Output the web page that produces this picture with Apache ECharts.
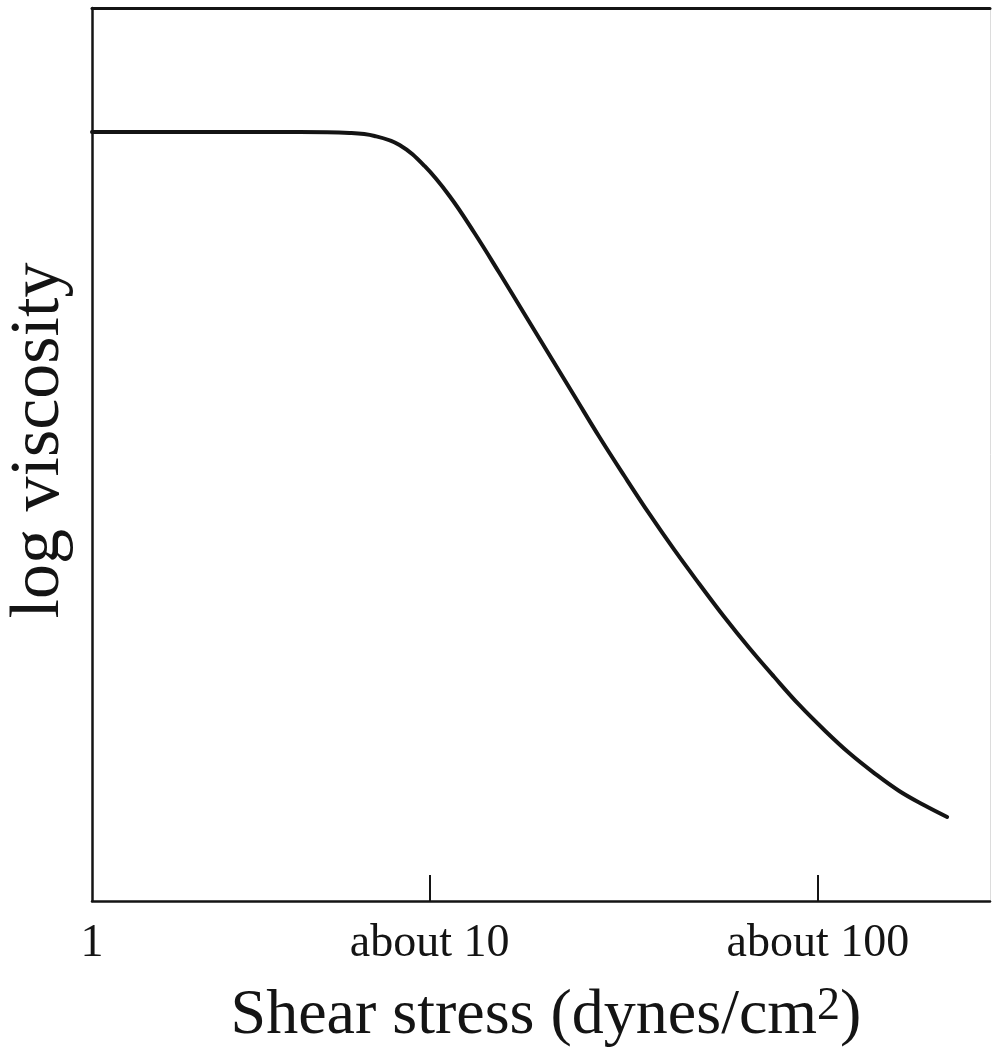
<!DOCTYPE html>
<html>
<head>
<meta charset="utf-8">
<title>log viscosity vs shear stress</title>
<script src="https://cdn.jsdelivr.net/npm/echarts@6/dist/echarts.min.js"></script>
<style>
  html, body { margin: 0; padding: 0; background: #fff; }
  #chart { width: 994px; height: 1050px; }
</style>
</head>
<body>
<div id="chart"></div>
<script>
// Schematic stress axis: 0 = 1, 1 = about 10, 2.15 = about 100 dynes/cm²
const stressPos = [0, 0.615, 0.763, 0.837, 0.911, 0.985, 1.059, 1.133, 1.207, 1.281, 1.355, 1.429, 1.503,
  1.577, 1.651, 1.725, 1.799, 1.873, 1.947, 2.021, 2.095, 2.169, 2.243, 2.317, 2.391, 2.464, 2.533];
// Relative log viscosity (axis runs 0..10, unlabelled)
const logViscosity = [8.611, 8.611, 8.600, 8.567, 8.466, 8.231, 7.895, 7.480, 7.032, 6.573, 6.114, 5.655, 5.196,
  4.759, 4.334, 3.931, 3.550, 3.180, 2.833, 2.508, 2.195, 1.915, 1.657, 1.433, 1.232, 1.075, 0.941];

const tickPositions = [0, 1, 2.15];
const tickLabels = ['1', 'about 10', 'about 100'];

const serif = "'Liberation Serif', 'Times New Roman', 'DejaVu Serif', serif";
const ink = '#141414';

const curve = stressPos.map((x, i) => [x, logViscosity[i]]);
const labelFor = v => {
  const i = tickPositions.findIndex(t => Math.abs(t - v) < 1e-6);
  return i >= 0 ? tickLabels[i] : '';
};

// Plain axis used only to draw one side of the frame
const frameAxis = (pos, max, color, width) => ({
  type: 'value',
  min: 0,
  max: max,
  position: pos,
  splitLine: { show: false },
  axisLine: { show: true, onZero: false, lineStyle: { color: color, width: width } },
  axisTick: { show: false },
  axisLabel: { show: false }
});

const chart = echarts.init(document.getElementById('chart'), null, { renderer: 'canvas' });
chart.setOption({
  backgroundColor: '#ffffff',
  animation: false,
  grid: { left: 92, right: 4, top: 8, bottom: 149, outerBoundsMode: 'none', containLabel: false },
  xAxis: [
    {
      type: 'value',
      min: 0,
      max: 2.66,
      position: 'bottom',
      splitLine: { show: false },
      axisLine: { show: true, onZero: false, lineStyle: { color: ink, width: 2.5 } },
      axisTick: {
        show: true, inside: true, length: 26,
        customValues: tickPositions.slice(1),
        lineStyle: { color: ink, width: 2 }
      },
      axisLabel: {
        show: true,
        customValues: tickPositions,
        formatter: labelFor,
        margin: 20,
        fontFamily: serif,
        fontSize: 46,
        color: ink
      },
      name: 'Shear stress (dynes/cm{sup|2})',
      nameLocation: 'middle',
      nameGap: 83,
      nameTextStyle: {
        fontFamily: serif,
        fontSize: 64,
        color: ink,
        padding: [0, 0, 0, 10],
        rich: {
          sup: { fontFamily: serif, fontSize: 46, color: ink, verticalAlign: 'top' }
        }
      }
    },
    frameAxis('top', 2.66, ink, 3)
  ],
  yAxis: [
    {
      type: 'value',
      min: 0,
      max: 10,
      position: 'left',
      splitLine: { show: false },
      axisLine: { show: true, onZero: false, lineStyle: { color: ink, width: 2.5 } },
      axisTick: { show: false },
      axisLabel: { show: false },
      name: 'log viscosity',
      nameLocation: 'middle',
      nameGap: 17,
      nameTextStyle: {
        fontFamily: serif,
        fontSize: 70,
        color: ink,
        padding: [0, 0, 0, 28]
      }
    },
    frameAxis('right', 10, '#dcdcdc', 1)
  ],
  series: [
    {
      type: 'line',
      xAxisIndex: 0,
      yAxisIndex: 0,
      data: curve,
      smooth: 0.4,
      symbol: 'none',
      lineStyle: { color: ink, width: 4, cap: 'round' }
    }
  ]
});
</script>
</body>
</html>
